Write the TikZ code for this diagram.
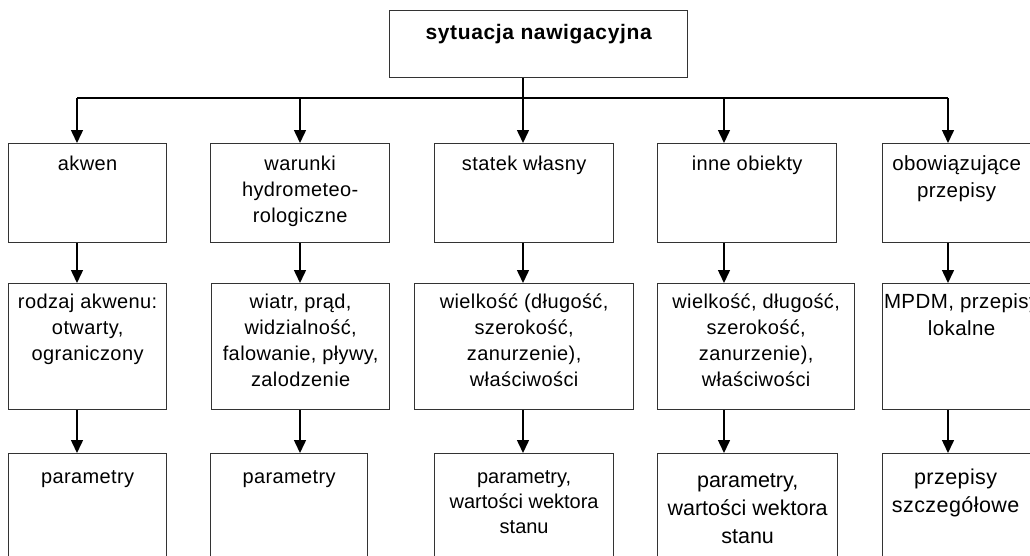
\documentclass[tikz,border=0pt]{standalone}
\usepackage{fontspec}
\setmainfont{Liberation Sans}[LetterSpace=2]
\usetikzlibrary{arrows.meta}
\newcommand\fstrut{\rule{0pt}{15pt}}
\tikzset{
  box/.style={draw=black!80, line width=1.3pt, rectangle, inner sep=0pt, anchor=north west},
  txt/.style={align=center, inner sep=0pt, anchor=north, font=\fontsize{20}{26}\selectfont},
  bigtxt/.style={txt, font=\fontsize{21.5}{28}\selectfont},
  titletxt/.style={txt, font=\fontsize{21}{26}\selectfont\bfseries\addfontfeatures{LetterSpace=3}},
  conn/.style={line width=1.5pt, black},
  arr/.style={conn, -{Triangle[length=13pt,width=12pt]}},
}
\begin{document}
\begin{tikzpicture}[x=1pt,y=-1pt]
\useasboundingbox (0,0) rectangle (1030,555);
% top
\node[box, minimum width=298pt, minimum height=67pt] (top) at (389,10) {};
\node[titletxt] (ttop) at ([yshift=-14.5pt]top.north) {\fstrut sytuacja nawigacyjna};
% row 1
\node[box, minimum width=158pt, minimum height=99pt] (a1) at (8,143) {};
\node[box, minimum width=179pt, minimum height=99pt] (b1) at (210,143) {};
\node[box, minimum width=179pt, minimum height=99pt] (c1) at (434,143) {};
\node[box, minimum width=179pt, minimum height=99pt] (d1) at (657,143) {};
\node[box, minimum width=152pt, minimum height=99pt] (e1) at (882,143) {};
\node[txt] (ta1) at ([yshift=-12pt]a1.north) {\fstrut akwen};
\node[txt] (tb1) at ([yshift=-12pt]b1.north) {\fstrut warunki\\hydrometeo-\\rologiczne};
\node[txt] (tc1) at ([yshift=-12pt]c1.north) {\fstrut statek własny};
\node[txt] (td1) at ([yshift=-12pt]d1.north) {\fstrut inne obiekty};
\node[txt, font=\fontsize{20.5}{27}\selectfont] (te1) at ([yshift=-12pt,xshift=-2pt]e1.north) {\fstrut obowiązujące\\przepisy};
% row 2
\node[box, minimum width=158pt, minimum height=126pt] (a2) at (8,283) {};
\node[box, minimum width=178pt, minimum height=126pt] (b2) at (211,283) {};
\node[box, minimum width=219pt, minimum height=126pt] (c2) at (414,283) {};
\node[box, minimum width=197pt, minimum height=126pt] (d2) at (657,283) {};
\node[box, minimum width=152pt, minimum height=126pt] (e2) at (882,283) {};
\node[txt] (ta2) at ([yshift=-10pt]a2.north) {\fstrut rodzaj akwenu:\\otwarty,\\ograniczony};
\node[txt] (tb2) at ([yshift=-10pt]b2.north) {\fstrut wiatr, prąd,\\widzialność,\\falowanie, pływy,\\zalodzenie};
\node[txt] (tc2) at ([yshift=-10pt]c2.north) {\fstrut wielkość (długość,\\szerokość,\\zanurzenie),\\właściwości};
\node[txt] (td2) at ([yshift=-10pt]d2.north) {\fstrut wielkość, długość,\\szerokość,\\zanurzenie),\\właściwości};
\node[txt, font=\fontsize{20.5}{27}\selectfont] (te2) at ([yshift=-10pt,xshift=3pt]e2.north) {\fstrut MPDM, przepisy\\lokalne};
% row 3
\node[box, minimum width=158pt, minimum height=122pt] (a3) at (8,453) {};
\node[box, minimum width=157pt, minimum height=122pt] (b3) at (210,453) {};
\node[box, minimum width=179pt, minimum height=122pt] (c3) at (434,453) {};
\node[box, minimum width=180pt, minimum height=122pt] (d3) at (657,453) {};
\node[box, minimum width=152pt, minimum height=122pt] (e3) at (882,453) {};
\node[txt] (ta3) at ([yshift=-15pt]a3.north) {\fstrut parametry};
\node[txt] (tb3) at ([yshift=-15pt]b3.north) {\fstrut parametry};
\node[txt, font=\fontsize{20}{25}\selectfont\addfontfeatures{LetterSpace=0}] (tc3) at ([yshift=-15pt]c3.north) {\fstrut parametry,\\wartości wektora\\stanu};
\node[bigtxt, font=\fontsize{21.5}{28}\selectfont\addfontfeatures{LetterSpace=0}] (td3) at ([yshift=-19pt]d3.north) {\fstrut parametry,\\wartości wektora\\stanu};
\node[bigtxt] (te3) at ([yshift=-15.5pt,xshift=-3pt]e3.north) {\fstrut przepisy\\szczegółowe};
% connectors
\coordinate (k1) at (77,0);
\coordinate (k2) at (300,0);
\coordinate (k3) at (523,0);
\coordinate (k4) at (724,0);
\coordinate (k5) at (948,0);
\coordinate (busL) at (77,98);
\coordinate (busR) at (948,98);
\draw[conn] (k3 |- top.south) -- (k3 |- busL);
\draw[conn, line width=1.3pt] (busL) -- (busR);
\draw[arr] (k1 |- busL) -- (k1 |- a1.north);
\draw[arr] (k2 |- busL) -- (k2 |- b1.north);
\draw[arr] (k3 |- busL) -- (k3 |- c1.north);
\draw[arr] (k4 |- busL) -- (k4 |- d1.north);
\draw[arr] (k5 |- busL) -- (k5 |- e1.north);
\draw[arr] (k1 |- a1.south) -- (k1 |- a2.north);
\draw[arr] (k2 |- b1.south) -- (k2 |- b2.north);
\draw[arr] (k3 |- c1.south) -- (k3 |- c2.north);
\draw[arr] (k4 |- d1.south) -- (k4 |- d2.north);
\draw[arr] (k5 |- e1.south) -- (k5 |- e2.north);
\draw[arr] (k1 |- a2.south) -- (k1 |- a3.north);
\draw[arr] (k2 |- b2.south) -- (k2 |- b3.north);
\draw[arr] (k3 |- c2.south) -- (k3 |- c3.north);
\draw[arr] (k4 |- d2.south) -- (k4 |- d3.north);
\draw[arr] (k5 |- e2.south) -- (k5 |- e3.north);
\end{tikzpicture}
\end{document}
